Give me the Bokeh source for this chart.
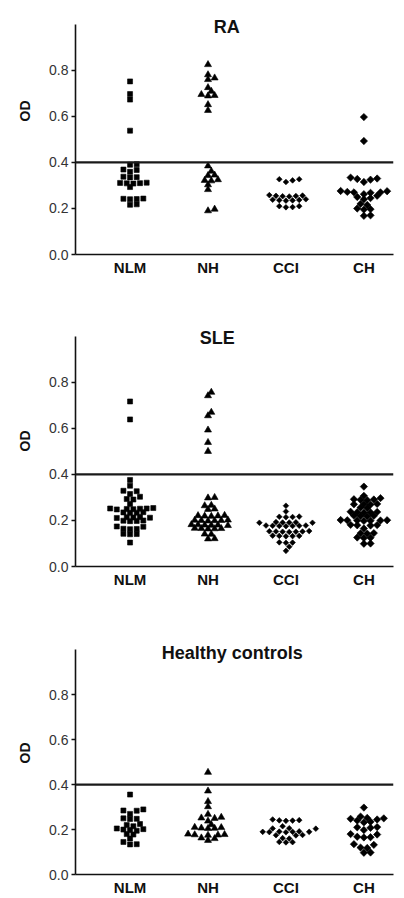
import math
from bokeh.plotting import figure
from bokeh.layouts import column
from bokeh.models import Span, Label, Title, FixedTicker, ColumnDataSource, Range1d, PrintfTickFormatter
from bokeh.embed import file_html
from bokeh.resources import INLINE

# ---------------- data ----------------
categories = ["NLM", "NH", "CCI", "CH"]
y_ticks = [0.0, 0.2, 0.4, 0.6, 0.8]
y_axis_max = 1.0
cutoff = 0.4

ra_nlm = [0.752, 0.697, 0.673, 0.538, 0.392, 0.390, 0.369, 0.367, 0.359, 0.338, 0.336, 0.335,
          0.312, 0.310, 0.309, 0.308, 0.311, 0.293, 0.243, 0.241, 0.240, 0.242, 0.218, 0.216]
ra_nh = [0.825, 0.781, 0.767, 0.760, 0.725, 0.709, 0.691, 0.689, 0.695, 0.651, 0.626,
         0.385, 0.362, 0.345, 0.343, 0.325, 0.322, 0.320, 0.303, 0.282, 0.190, 0.197]
ra_cci = [0.327, 0.315, 0.322, 0.327, 0.258, 0.256, 0.255, 0.254, 0.253, 0.252, 0.240, 0.238,
          0.237, 0.236, 0.235, 0.234, 0.210, 0.205, 0.206, 0.210]
ra_ch = [0.597, 0.493, 0.334, 0.330, 0.328, 0.325, 0.315, 0.275, 0.272, 0.270, 0.270, 0.268,
         0.276, 0.262, 0.255, 0.250, 0.245, 0.240, 0.220, 0.215, 0.200, 0.197, 0.195, 0.170, 0.168]

sle_nlm = [0.717, 0.639, 0.376, 0.351, 0.329, 0.327, 0.315, 0.303, 0.293, 0.291, 0.271, 0.252,
           0.250, 0.254, 0.249, 0.252, 0.251, 0.248, 0.235, 0.234, 0.236, 0.233, 0.213, 0.212,
           0.215, 0.211, 0.214, 0.199, 0.198, 0.200, 0.197, 0.174, 0.173, 0.163, 0.162, 0.164,
           0.141, 0.140, 0.142, 0.104]
sle_nh = [0.757, 0.742, 0.670, 0.655, 0.593, 0.539, 0.500, 0.300, 0.298, 0.266, 0.264, 0.250,
          0.248, 0.222, 0.220, 0.218, 0.221, 0.219, 0.201, 0.200, 0.199, 0.202, 0.198, 0.200,
          0.180, 0.181, 0.179, 0.178, 0.182, 0.180, 0.165, 0.164, 0.166, 0.163, 0.165, 0.141,
          0.140, 0.121, 0.120]
sle_cci = [0.264, 0.239, 0.216, 0.215, 0.217, 0.214, 0.192, 0.191, 0.190, 0.193, 0.191, 0.190,
           0.177, 0.176, 0.178, 0.177, 0.175, 0.176, 0.178, 0.152, 0.151, 0.153, 0.150, 0.152,
           0.154, 0.151, 0.133, 0.132, 0.134, 0.131, 0.133, 0.104, 0.103, 0.105, 0.086, 0.068]
sle_ch = [0.347, 0.307, 0.297, 0.292, 0.290, 0.291, 0.288, 0.272, 0.270, 0.271, 0.269, 0.256,
          0.254, 0.238, 0.236, 0.235, 0.237, 0.234, 0.220, 0.219, 0.221, 0.218, 0.201, 0.200,
          0.199, 0.202, 0.198, 0.200, 0.201, 0.180, 0.179, 0.181, 0.178, 0.165, 0.145, 0.143,
          0.144, 0.125, 0.124, 0.126, 0.100, 0.099]

hc_nlm = [0.356, 0.290, 0.285, 0.284, 0.270, 0.250, 0.248, 0.247, 0.225, 0.220, 0.215, 0.205,
          0.200, 0.198, 0.202, 0.195, 0.180, 0.178, 0.160, 0.145, 0.135, 0.134]
hc_nh = [0.455, 0.372, 0.325, 0.302, 0.268, 0.252, 0.250, 0.255, 0.238, 0.222, 0.210, 0.207,
         0.205, 0.206, 0.209, 0.178, 0.175, 0.176, 0.177, 0.180, 0.163, 0.160, 0.152]
hc_cci = [0.242, 0.240, 0.241, 0.239, 0.245, 0.215, 0.205, 0.204, 0.206, 0.190, 0.191, 0.189,
          0.190, 0.188, 0.192, 0.190, 0.176, 0.175, 0.174, 0.162, 0.160, 0.145, 0.143, 0.144]
hc_ch = [0.298, 0.258, 0.252, 0.250, 0.248, 0.245, 0.240, 0.235, 0.232, 0.210, 0.208, 0.211,
         0.198, 0.180, 0.178, 0.165, 0.166, 0.168, 0.135, 0.132, 0.120, 0.118, 0.098, 0.097]

titles = ["RA", "SLE", "Healthy controls"]
panel_data = [
    [ra_nlm, ra_nh, ra_cci, ra_ch],
    [sle_nlm, sle_nh, sle_cci, sle_ch],
    [hc_nlm, hc_nh, hc_cci, hc_ch],
]

# ---------------- styling ----------------
W = 400
BL, BR = 72, 7
X0, X1 = 0.30, 4.38
Y1 = 1.06          # frame extends a bit above the axis top so the title can overlap it
FONT = "Liberation Sans"
# (height, border_top, border_bottom, title_x, title_offset, od_offset_from_frame_top)
layout_specs = [
    (318, 10, 64, 2.24, 7, 90),
    (312, 4, 64, 2.12, 8, 108),
    (268, 6, 20, 2.31, 7, 106),
]
marker_styles = [
    dict(marker="square", size=5, angle=0.0),
    dict(marker="triangle", size=7, angle=0.0),
    dict(marker="square", size=4, angle=math.pi / 4),
    dict(marker="square", size=5.2, angle=math.pi / 4),
]


def swarm_offsets(vals, px_per_y, half_step_px, min_d_px):
    """Simple beeswarm: offsets (in px) on a half-step grid, nearest to centre first."""
    order = sorted(range(len(vals)), key=lambda i: vals[i])
    cands = [0]
    for j in range(1, 40):
        cands += [j, -j]
    placed = []
    offs = [0.0] * len(vals)
    for i in order:
        y = vals[i] * px_per_y
        for k in cands:
            x = k * half_step_px
            if all((x - px) ** 2 + (y - py) ** 2 >= min_d_px ** 2 for px, py in placed):
                break
        placed.append((x, y))
        offs[i] = x
    return offs


figs = []
for title, groups, spec in zip(titles, panel_data, layout_specs):
    h, bt, bb, tx, t_off, od_off = spec
    frame_w = W - BL - BR
    frame_h = h - bt - bb
    px_per_x = frame_w / (X1 - X0)
    px_per_y = frame_h / Y1

    p = figure(width=W, height=h, x_range=Range1d(X0, X1), y_range=Range1d(0, Y1),
               output_backend="svg", toolbar_location=None,
               min_border_left=BL, min_border_right=BR,
               min_border_top=bt, min_border_bottom=bb)
    p.outline_line_color = None
    p.xgrid.grid_line_color = None
    p.ygrid.grid_line_color = None
    p.background_fill_color = "white"
    p.border_fill_color = "white"

    # y axis
    p.yaxis.bounds = (0, y_axis_max)
    p.yaxis.ticker = FixedTicker(ticks=y_ticks)
    p.yaxis.formatter = PrintfTickFormatter(format="%.1f")
    p.yaxis.minor_tick_line_color = None
    p.yaxis.major_tick_in = 0
    p.yaxis.major_tick_out = 4
    p.yaxis.major_tick_line_width = 1.5
    p.yaxis.axis_line_width = 1.6
    p.yaxis.axis_line_color = "#111111"
    p.yaxis.major_tick_line_color = "#111111"
    p.yaxis.major_label_text_font = FONT
    p.yaxis.major_label_text_font_size = "14px"
    p.yaxis.major_label_text_color = "#333333"
    p.yaxis.major_label_standoff = 3

    # x axis
    p.xaxis.ticker = FixedTicker(ticks=[1, 2, 3, 4])
    p.xaxis.major_label_overrides = {i + 1: c for i, c in enumerate(categories)}
    p.xaxis.minor_tick_line_color = None
    p.xaxis.major_tick_line_color = None
    p.xaxis.major_tick_in = 0
    p.xaxis.major_tick_out = 0
    p.xaxis.axis_line_width = 1.6
    p.xaxis.axis_line_color = "#111111"
    p.xaxis.major_label_text_font = FONT
    p.xaxis.major_label_text_font_style = "bold"
    p.xaxis.major_label_text_font_size = "15px"
    p.xaxis.major_label_text_color = "#111111"
    p.xaxis.major_label_standoff = 4

    # cutoff line
    p.add_layout(Span(location=cutoff, dimension="width", line_color="#1a1a1a", line_width=2.2))

    # points
    for gi, (vals, ms) in enumerate(zip(groups, marker_styles)):
        offs = swarm_offsets(vals, px_per_y, 3.35, 4.8)
        xs = [gi + 1 + o / px_per_x for o in offs]
        src = ColumnDataSource(dict(x=xs, y=vals))
        p.scatter("x", "y", source=src, marker=ms["marker"], size=ms["size"], angle=ms["angle"],
                  fill_color="black", line_color="black", line_width=0.6)

    # title
    p.add_layout(Label(x=tx, y=y_axis_max, y_offset=t_off, text=title, text_align="center",
                       text_baseline="top", text_font=FONT, text_font_style="bold",
                       text_font_size="18px", text_color="#111111"))
    # y axis label
    p.add_layout(Title(text="OD", align="right", offset=od_off, standoff=28,
                       text_font=FONT, text_font_style="bold", text_font_size="14px",
                       text_color="#111111"), "left")
    figs.append(p)

layout = column(*figs, spacing=0)
open("out.html", "w").write(file_html(layout, INLINE))
